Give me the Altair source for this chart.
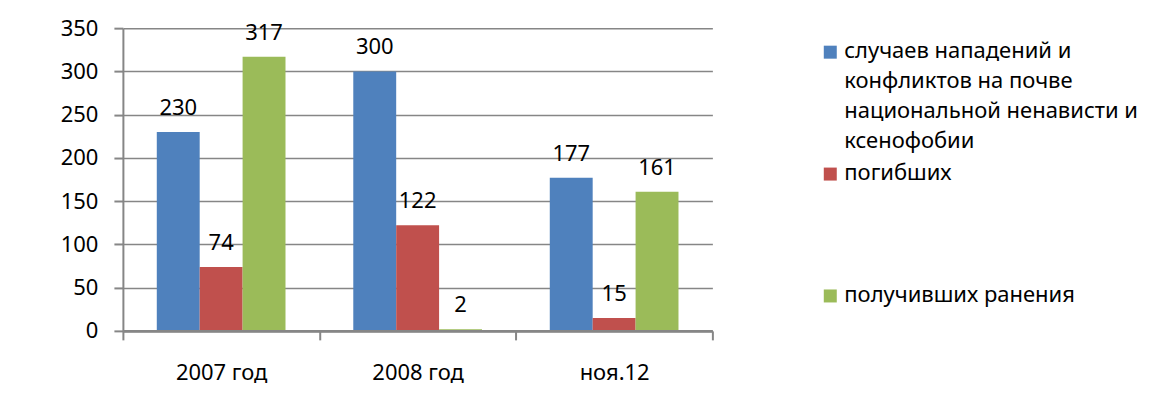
import json
import altair as alt
import pandas as pd

categories = ["2007 год", "2008 год", "ноя.12"]
series = [
    "случаев нападений и конфликтов на почве национальной ненависти и ксенофобии",
    "погибших",
    "получивших ранения",
]
attacks = [230, 300, 177]
killed = [74, 122, 15]
wounded = [317, 2, 161]
colors = ["#4F81BD", "#C0504D", "#9BBB59"]
legend_lines = [
    ["случаев нападений и", "конфликтов на почве", "национальной ненависти и", "ксенофобии"],
    ["погибших", "", "", ""],
    ["получивших ранения"],
]

rows = []
for s, vals in zip(series, [attacks, killed, wounded]):
    for c, v in zip(categories, vals):
        rows.append({"category": c, "series": s, "value": v})
df = pd.DataFrame(rows)

FONT = "Noto Sans"

label_expr = " : ".join(
    f"datum.label == {json.dumps(s, ensure_ascii=False)} ? {json.dumps(l, ensure_ascii=False)}"
    for s, l in zip(series[:-1], legend_lines[:-1])
) + " : " + json.dumps(legend_lines[-1], ensure_ascii=False)

x = alt.X(
    "category:N",
    sort=categories,
    scale=alt.Scale(paddingInner=0, paddingOuter=0),
    axis=alt.Axis(
        title=None,
        labelAngle=0,
        labelFont=FONT,
        labelFontSize=22,
        labelColor="#000000",
        labelBaseline="alphabetic",
        labelPadding=40,
        tickBand="extent",
        tickSize=9,
        tickColor="#868686",
        tickWidth=2,
        domainColor="#868686",
        domainWidth=2.6,
        grid=False,
        zindex=1,
    ),
)
xo = alt.XOffset(
    "series:N",
    sort=series,
    scale=alt.Scale(domain=series, paddingInner=0, paddingOuter=0.79),
)
y = alt.Y(
    "value:Q",
    scale=alt.Scale(domain=[0, 350], nice=False),
    axis=alt.Axis(
        title=None,
        values=[0, 50, 100, 150, 200, 250, 300, 350],
        labelFont=FONT,
        labelFontSize=22,
        labelColor="#000000",
        labelPadding=16,
        tickSize=9,
        tickColor="#868686",
        tickWidth=2,
        domainColor="#868686",
        domainWidth=2,
        gridColor="#868686",
        gridWidth=1.5,
    ),
)

bars = alt.Chart(df).mark_bar().encode(
    x=x,
    xOffset=xo,
    y=y,
    color=alt.Color(
        "series:N",
        sort=series,
        scale=alt.Scale(domain=series, range=colors),
        legend=alt.Legend(
            title=None,
            orient="none",
            legendX=697,
            legendY=2,
            symbolType="M-1,0.7H1V2.7H-1Z",
            symbolSize=169,
            symbolStrokeWidth=0,
            labelFont=FONT,
            labelFontSize=22,
            labelColor="#000000",
            labelLimit=500,
            labelOffset=3,
            labelExpr=label_expr,
            labelBaseline="top",
            rowPadding=0,
            padding=0,
        ),
    ),
)

labels = alt.Chart(df).mark_text(
    font=FONT, fontSize=22, color="#000000", baseline="alphabetic", dy=-17
).encode(x=x, xOffset=xo, y=y, text="value:Q")

chart = (
    alt.layer(bars, labels)
    .properties(
        width=590,
        height=303,
        padding={"left": 115, "top": 20, "right": 430, "bottom": 60},
        autosize=alt.AutoSizeParams(type="none"),
    )
    .configure(style={"guide-label": {"lineHeight": 30}})
    .configure_view(stroke="transparent")
)

chart.save("out.html", embed_options={"renderer": "svg", "actions": False})
